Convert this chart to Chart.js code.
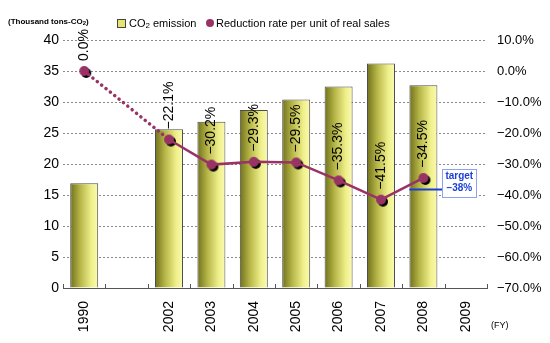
<!DOCTYPE html>
<html><head><meta charset="utf-8">
<script src="https://cdn.jsdelivr.net/npm/chart.js@4/dist/chart.umd.min.js"></script>
<style>html,body{margin:0;padding:0;background:#fff;}#wrap{width:550px;height:343px;position:relative;}</style>
</head><body><div id="wrap"><canvas id="c" width="550" height="343"></canvas></div>
<script>
const categories = ['1990', '', '2002', '2003', '2004', '2005', '2006', '2007', '2008', '2009'];
const co2Emission = [16.9, null, 25.6, 26.8, 28.7, 30.4, 32.5, 36.2, 32.7, null];
const reductionRate = [0.0, null, -22.1, -30.2, -29.3, -29.5, -35.3, -41.5, -34.5, null];
const leftTicks = [0, 5, 10, 15, 20, 25, 30, 35, 40];
const rightRange = [-70, 10, 10];
const targetRate = -38;
const targetIndex = 8;
const targetText = ['target', '\u221238%'];
const seriesNames = ['CO2 emission', 'Reduction rate per unit of real sales'];
const unitLabel = '(Thousand tons-CO2)';
const fyLabel = '(FY)';

const FONT = "'Liberation Sans', Arial, sans-serif";
const MAROON = '#993366';
const BAR_PCT = 0.66;

const dottedRate = reductionRate.map((v, i) => (i <= 2 ? v : null));
const solidRate = reductionRate.map((v, i) => (i >= 2 ? v : null));

function fmtPct(v) { return (v < 0 ? '\u2212' : '') + Math.abs(v).toFixed(1) + '%'; }

function makePoint() {
  const c = document.createElement('canvas'); c.width = 18; c.height = 18;
  const g = c.getContext('2d');
  g.fillStyle = '#000'; g.beginPath(); g.arc(11, 11, 5, 0, Math.PI * 2); g.fill();
  g.fillStyle = MAROON; g.beginPath(); g.arc(9, 9, 5, 0, Math.PI * 2); g.fill();
  return c;
}
const pointImg = makePoint();

function barGradient(ctx) {
  const chart = ctx.chart; const xs = chart.scales.x;
  if (!xs || ctx.type !== 'data') return '#e0e070';
  const cx = xs.getPixelForValue(ctx.dataIndex);
  const w = (xs.width / categories.length) * BAR_PCT;
  if (!isFinite(cx) || !isFinite(w) || w <= 0) return '#e0e070';
  const g = chart.ctx.createLinearGradient(cx - w / 2, 0, cx + w / 2, 0);
  g.addColorStop(0, '#70701c');
  g.addColorStop(0.35, '#b4b446');
  g.addColorStop(0.75, '#efef8a');
  g.addColorStop(1, '#fbfbb2');
  return g;
}

function drawSubText(g, parts, x, y, size, bold) {
  let cx = x;
  const segs = parts.split('CO2');
  for (let i = 0; i < segs.length; i++) {
    g.font = (bold ? 'bold ' : '') + size + 'px ' + FONT;
    g.fillText(segs[i], cx, y); cx += g.measureText(segs[i]).width;
    if (i < segs.length - 1) {
      g.fillText('CO', cx, y); cx += g.measureText('CO').width;
      g.font = (bold ? 'bold ' : '') + Math.round(size * 0.7) + 'px ' + FONT;
      g.fillText('2', cx, y + size * 0.2); cx += g.measureText('2').width;
    }
  }
  return cx;
}

const decor = {
  id: 'decor',
  afterDatasetsDraw(chart) {
    const g = chart.ctx; const xs = chart.scales.x; const y1 = chart.scales.y1;
    const area = chart.chartArea;
    g.save();
    g.strokeStyle = '#555'; g.lineWidth = 1;
    const step = xs.width / categories.length;
    for (let i = 0; i <= categories.length; i++) {
      const px = Math.round(xs.getPixelForValue(0) - step / 2 + i * step) + 0.5;
      g.beginPath(); g.moveTo(px, area.bottom); g.lineTo(px, area.bottom - 4); g.stroke();
    }
    g.fillStyle = '#000'; g.font = '14px ' + FONT;
    g.textAlign = 'left'; g.textBaseline = 'middle';
    reductionRate.forEach((v, i) => {
      if (v === null || v === undefined) return;
      const py = y1.getPixelForValue(v);
      const px = xs.getPixelForValue(i);
      g.save(); g.translate(px, py - 10); g.rotate(-Math.PI / 2);
      g.fillText(fmtPct(v), 0, 0); g.restore();
    });
    const ty = Math.round(y1.getPixelForValue(targetRate)) + 0.5;
    const bw = step * BAR_PCT;
    const cx = xs.getPixelForValue(targetIndex);
    const bx = cx + bw / 2 + 5;
    g.strokeStyle = '#1a3fd6'; g.lineWidth = 2;
    g.beginPath(); g.moveTo(cx - bw / 2, ty); g.lineTo(bx, ty); g.stroke();
    g.fillStyle = '#fff'; g.fillRect(bx, ty - 21, 34, 28);
    g.strokeStyle = '#8fa2ee'; g.lineWidth = 1;
    g.strokeRect(Math.round(bx) + 0.5, Math.round(ty - 21) + 0.5, 34, 28);
    g.fillStyle = '#1a3fd6'; g.font = 'bold 10px ' + FONT; g.textAlign = 'left'; g.textBaseline = 'middle';
    g.fillText(targetText[0], bx + 3, ty - 13);
    g.fillText(targetText[1], bx + 4, ty - 1);
    g.textBaseline = 'middle'; g.textAlign = 'left';
    g.fillStyle = '#e6e66e'; g.fillRect(117, 19, 8, 8);
    g.strokeStyle = '#444'; g.lineWidth = 1; g.strokeRect(117.5, 19.5, 8, 8);
    g.fillStyle = '#000';
    drawSubText(g, seriesNames[0], 129, 23.5, 11, false);
    g.fillStyle = MAROON; g.beginPath(); g.arc(210, 23, 4, 0, Math.PI * 2); g.fill();
    g.fillStyle = '#000'; g.font = '11px ' + FONT;
    g.fillText(seriesNames[1], 216, 23.5);
    drawSubText(g, unitLabel, 8, 21.5, 8, true);
    g.font = '9px ' + FONT; g.fillStyle = '#000';
    g.fillText(fyLabel, area.right + 4, 326);
    g.restore();
  }
};

new Chart(document.getElementById('c'), {
  data: {
    labels: categories,
    datasets: [
      {
        type: 'line', label: 'base link', data: dottedRate, yAxisID: 'y1', order: 0,
        borderColor: MAROON, borderWidth: 3.5, spanGaps: true, tension: 0,
        borderDash: [0.1, 5.5], borderCapStyle: 'round',
        pointRadius: 0, pointHoverRadius: 0
      },
      {
        type: 'line', label: seriesNames[1], data: solidRate, yAxisID: 'y1', order: 0,
        borderColor: MAROON, borderWidth: 2.5, spanGaps: false, tension: 0,
        pointRadius: 0, pointHoverRadius: 0
      },
      {
        type: 'line', label: 'points', data: reductionRate, yAxisID: 'y1', order: 0,
        showLine: false, pointStyle: pointImg, pointRadius: 5, pointHoverRadius: 5
      },
      {
        type: 'bar', label: seriesNames[0], data: co2Emission, yAxisID: 'y', order: 1,
        backgroundColor: barGradient, borderColor: '#4d4d4d', borderWidth: 1, borderSkipped: 'bottom',
        barPercentage: BAR_PCT, categoryPercentage: 1.0
      }
    ]
  },
  options: {
    responsive: false, animation: false,
    layout: { padding: { top: 40, left: 0, right: 0, bottom: 0 } },
    plugins: { legend: { display: false }, tooltip: { enabled: false } },
    scales: {
      x: {
        offset: true,
        grid: { display: false, drawTicks: false },
        border: { display: true, color: '#555', width: 1 },
        ticks: { autoSkip: false, maxRotation: 90, minRotation: 90, padding: 13, color: '#000', font: { family: FONT, size: 14 } },
        afterFit: s => { s.height = 55; }
      },
      y: {
        position: 'left', min: leftTicks[0], max: leftTicks[leftTicks.length - 1],
        ticks: { stepSize: leftTicks[1] - leftTicks[0], padding: 4, color: '#000', font: { family: FONT, size: 14 } },
        grid: { display: true, drawOnChartArea: true, drawTicks: false, color: '#8a8a8a', lineWidth: 1 },
        border: { display: false, dash: [2, 2] },
        afterFit: s => { s.width = 63; }
      },
      y1: {
        position: 'right', min: rightRange[0], max: rightRange[1],
        ticks: { stepSize: rightRange[2], padding: 10, color: '#000', font: { family: FONT, size: 13 }, callback: v => fmtPct(v) },
        grid: { drawOnChartArea: false, drawTicks: false },
        border: { display: false },
        afterFit: s => { s.width = 63; }
      }
    }
  },
  plugins: [decor]
});
</script></body></html>
